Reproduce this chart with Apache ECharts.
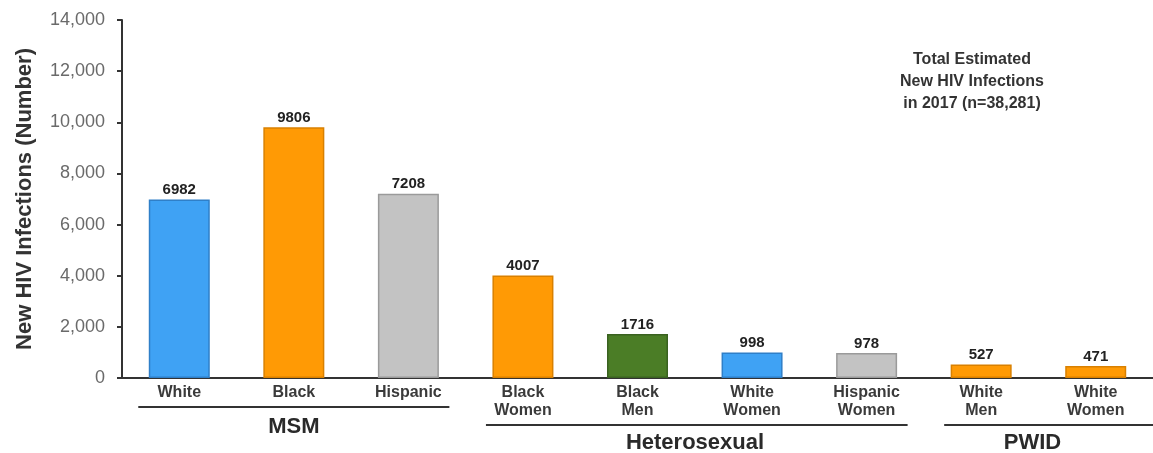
<!DOCTYPE html>
<html>
<head>
<meta charset="utf-8">
<script src="https://cdn.jsdelivr.net/npm/echarts@6/dist/echarts.min.js"></script>
<style>
html,body{margin:0;padding:0;background:#fff;}
#chart{width:1153px;height:453px;}
</style>
</head>
<body>
<div id="chart"></div>
<script>
var categories = ['White', 'Black', 'Hispanic', 'Black\nWomen', 'Black\nMen', 'White\nWomen', 'Hispanic\nWomen', 'White\nMen', 'White\nWomen'];
var values = [6982, 9806, 7208, 4007, 1716, 998, 978, 527, 471];
var barColors = ['#3fa2f4', '#ff9a05', '#c3c3c3', '#ff9a05', '#4b7d26', '#3fa2f4', '#c3c3c3', '#ff9a05', '#ff9a05'];
var barBorders = ['#2f7fc8', '#d98000', '#9a9a9a', '#d98000', '#3a6220', '#2f7fc8', '#9a9a9a', '#d98000', '#d98000'];
var groups = [
  {name: 'MSM', from: 0, to: 2},
  {name: 'Heterosexual', from: 3, to: 6},
  {name: 'PWID', from: 7, to: 8}
];
var yTicks = [0, 2000, 4000, 6000, 8000, 10000, 12000, 14000];
var noteLines = ['Total Estimated', 'New HIV Infections', 'in 2017 (n=38,281)'];
var yTitle = 'New HIV Infections (Number)';

var chart = echarts.init(document.getElementById('chart'), null, {renderer: 'canvas'});
var FONT = 'Liberation Sans, Arial, sans-serif';

var option = {
  animation: false,
  backgroundColor: '#fff',
  grid: {left: 122, right: -13, top: 20, bottom: 75, containLabel: false},
  xAxis: {
    type: 'category',
    data: categories,
    axisLine: {lineStyle: {color: '#333', width: 2}},
    axisTick: {show: false},
    axisLabel: {
      interval: 0, margin: 6, color: '#3a3a3a', fontFamily: FONT,
      fontWeight: 'bold', fontSize: 16, lineHeight: 18
    }
  },
  yAxis: {
    type: 'value',
    min: yTicks[0], max: yTicks[yTicks.length - 1], interval: 2000,
    name: yTitle, nameLocation: 'middle', nameGap: 86, nameRotate: 90,
    nameTextStyle: {color: '#333', fontFamily: FONT, fontWeight: 'bold', fontSize: 22},
    axisLine: {show: true, lineStyle: {color: '#333', width: 2}},
    axisTick: {show: true, inside: false, length: 5, lineStyle: {color: '#333', width: 2}},
    splitLine: {show: false},
    axisLabel: {
      color: '#6a6a6a', fontFamily: FONT, fontSize: 18, margin: 17,
      formatter: function (v) { return v.toLocaleString('en-US'); }
    }
  },
  series: [{
    type: 'bar',
    barWidth: 61,
    data: values.map(function (v, i) {
      return {value: v, itemStyle: {color: barColors[i], borderColor: barBorders[i], borderWidth: 1.5}};
    }),
    label: {
      show: true, position: 'top', distance: 2, color: '#222',
      fontFamily: FONT, fontWeight: 'bold', fontSize: 15
    }
  }]
};
chart.setOption(option);

// group brackets positioned through the axis scale
function buildGraphics() {
  var els = [];
  var W = chart.getWidth();
  var zeroY = chart.convertToPixel({yAxisIndex: 0}, 0);
  var half = 58;
  groups.forEach(function (g, gi) {
    var pFrom = chart.convertToPixel({xAxisIndex: 0}, g.from);
    var pTo = chart.convertToPixel({xAxisIndex: 0}, g.to);
    var x1 = pFrom - half + (gi === 0 ? 17 : 21);
    var x2 = gi === groups.length - 1 ? W : pTo + half - 17;
    var twoLine = categories[g.from].indexOf('\n') >= 0;
    var lineY = zeroY + (twoLine ? 47 : 29);
    var textY = lineY + (twoLine ? 18 : 20);
    var cx;
    if (gi === 0) cx = chart.convertToPixel({xAxisIndex: 0}, 1);
    else if (gi === 1) cx = 695;
    else cx = (pFrom + pTo) / 2 - 6;
    els.push({
      type: 'line', silent: true,
      shape: {x1: x1, y1: lineY, x2: x2, y2: lineY},
      style: {stroke: '#333', lineWidth: 2}
    });
    els.push({
      type: 'text', silent: true, x: cx, y: textY,
      style: {text: g.name, fill: '#2a2a2a', font: 'bold 22px ' + FONT, align: 'center', verticalAlign: 'middle'}
    });
  });
  noteLines.forEach(function (t, i) {
    els.push({
      type: 'text', silent: true, x: 972, y: 60 + i * 22,
      style: {text: t, fill: '#333', font: 'bold 16px ' + FONT, align: 'center', verticalAlign: 'middle'}
    });
  });
  chart.setOption({graphic: els});
}
buildGraphics();
</script>
</body>
</html>
